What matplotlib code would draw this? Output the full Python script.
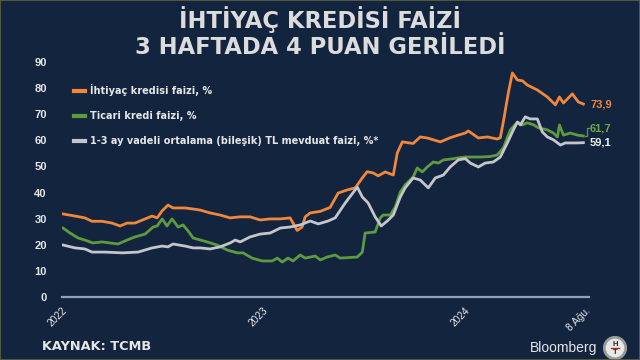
import matplotlib
matplotlib.use("Agg")
import matplotlib.pyplot as plt
from matplotlib.patches import Circle

# ---- data (time in years since 2022-01-01) ----
orange_t = [0.005,0.065,0.114,0.149,0.199,0.249,0.289,0.323,0.363,0.413,0.448,0.473,0.498,0.527,0.552,0.612,0.652,
            0.687,0.736,0.786,0.836,0.886,0.935,0.985,1.035,1.085,1.134,1.149,1.169,1.194,1.209,1.234,1.284,1.333,
            1.373,1.418,1.458,1.493,1.517,1.547,1.572,1.607,1.647,1.667,1.692,1.746,1.781,1.816,1.881,1.930,1.970,
            2.005,2.020,2.070,2.114,2.164,2.179,2.194,2.219,2.239,2.264,2.289,2.313,2.363,2.413,2.453,2.473,2.493,
            2.537,2.567,2.592]
orange_v = [31.8,31.0,30.3,29.0,29.0,28.3,27.2,28.3,28.3,29.9,31.0,30.3,33.0,35.2,34.1,34.1,33.7,
            33.3,32.2,31.4,30.3,30.7,30.7,29.5,29.9,29.9,30.3,28.3,25.5,26.8,30.7,32.2,32.8,34.3,
            39.8,41.0,41.8,45.6,48.0,47.5,46.4,47.9,46.7,55.2,59.4,58.8,61.3,60.9,59.4,61.0,62.0,
            62.8,63.6,60.9,61.3,60.5,61.0,67.0,78.2,85.8,83.1,82.8,81.2,79.3,76.6,73.6,76.6,74.3,
            77.8,74.7,73.9]

green_t = [0.005,0.040,0.080,0.114,0.154,0.199,0.239,0.279,0.323,0.363,0.413,0.453,0.473,0.498,0.522,0.547,0.577,
           0.602,0.627,0.652,0.721,0.771,0.821,0.871,0.900,0.945,0.995,1.045,1.070,1.095,1.124,1.149,1.184,1.209,
           1.259,1.284,1.318,1.358,1.383,1.468,1.493,1.507,1.557,1.582,1.597,1.632,1.657,1.682,1.706,1.746,1.766,
           1.791,1.816,1.846,1.871,1.896,1.940,1.970,2.005,2.080,2.129,2.164,2.194,2.229,2.264,2.289,2.313,2.343,
           2.368,2.413,2.443,2.463,2.473,2.493,2.527,2.562,2.592]
green_v = [26.4,24.5,22.6,21.8,20.7,21.1,20.7,20.3,21.8,23.0,24.1,26.8,27.2,29.9,27.2,29.9,26.8,
           27.6,25.3,22.6,21.1,19.9,18.0,16.9,16.9,14.9,13.8,13.8,14.9,13.4,14.9,13.8,16.1,14.9,
           15.7,14.2,15.3,16.1,14.9,15.3,17.2,24.5,24.9,30.3,31.4,31.4,34.5,40.2,42.9,46.0,49.4,
           47.9,49.8,51.7,51.3,52.5,52.9,53.3,53.6,53.6,53.8,54.4,57.1,64.0,67.0,65.9,66.7,66.0,
           64.8,64.0,62.8,61.3,65.9,62.0,62.8,62.0,61.7]

gray_t = [0.005,0.065,0.114,0.149,0.214,0.299,0.378,0.448,0.498,0.527,0.552,0.612,0.652,0.687,0.736,0.786,0.836,
          0.861,0.886,0.935,0.985,1.035,1.085,1.134,1.184,1.234,1.274,1.323,1.358,1.408,1.468,1.493,1.522,1.557,
          1.587,1.617,1.647,1.682,1.706,1.746,1.781,1.821,1.856,1.896,1.930,1.970,2.005,2.030,2.070,2.104,2.144,
          2.179,2.214,2.244,2.264,2.279,2.303,2.328,2.363,2.388,2.413,2.443,2.478,2.502,2.562,2.592]
gray_v = [19.9,18.8,18.4,17.2,17.2,16.9,17.2,18.8,19.5,19.2,20.3,19.5,18.8,18.8,18.4,19.2,20.7,
          21.8,21.1,23.0,24.1,24.5,26.4,26.8,27.6,29.1,28.0,29.1,30.3,36.0,42.1,38.3,36.0,30.7,
          27.2,29.1,31.4,38.3,41.8,45.6,44.8,41.8,45.6,46.7,49.8,52.5,53.0,51.3,49.8,51.3,51.7,
          53.6,59.0,64.0,67.0,65.9,69.0,68.2,68.2,63.2,61.3,60.2,58.2,59.0,59.0,59.1]

series_names = ["İhtiyaç kredisi faizi, %", "Ticari kredi faizi, %",
                "1-3 ay vadeli ortalama (bileşik) TL mevduat faizi, %*"]
end_labels = ["73,9", "61,7", "59,1"]
yticks = [0, 10, 20, 30, 40, 50, 60, 70, 80, 90]
xtick_pos = [2022.0, 2023.0, 2024.0, 2024.6]
xtick_lab = ["2022", "2023", "2024", "8 Ağu."]

BG = "#13243f"
C_OR = "#f0873a"
C_GR = "#5e9a3e"
C_GY = "#c4c6c9"
TXT = "#e6e6e6"

plt.rcParams['font.family'] = ['Liberation Sans', 'DejaVu Sans']

fig = plt.figure(figsize=(6.4, 3.6), dpi=100, facecolor=BG)
ax = fig.add_axes([62/640, 1-297/360, 527/640, 235/360])
ax.set_facecolor(BG)

ax.plot([2022 + t for t in orange_t], orange_v, color=C_OR, lw=2.0, label=series_names[0], solid_joinstyle='round')
ax.plot([2022 + t for t in green_t], green_v, color=C_GR, lw=2.0, label=series_names[1], solid_joinstyle='round')
ax.plot([2022 + t for t in gray_t], gray_v, color=C_GY, lw=2.0, label=series_names[2], solid_joinstyle='round')

ax.set_xlim(2022.0, 2024.62)
ax.set_ylim(0, 90)
ax.axhline(0, color="#8ea2bd", lw=1.6, clip_on=False)

for s in ax.spines.values():
    s.set_visible(False)
ax.set_yticks(yticks)
ax.set_yticklabels([str(v) for v in yticks], fontsize=8, fontweight='bold', color=TXT)
ax.tick_params(axis='y', length=0, pad=11)
ax.set_xticks(xtick_pos)
ax.set_xticklabels(xtick_lab, fontsize=7.3, color=TXT, rotation=45, ha='right', rotation_mode='anchor')
ax.tick_params(axis='x', length=0, pad=6)

leg = ax.legend(loc='upper left', bbox_to_anchor=(0.008, 0.94), frameon=False, handlelength=1.15,
                handletextpad=0.45, labelspacing=1.55, borderaxespad=0.4,
                prop={'family': 'DejaVu Sans', 'weight': 'bold', 'size': 7.0})
for txt in leg.get_texts():
    txt.set_color(TXT)
for h in leg.get_lines():
    h.set_linewidth(3)

# end labels
ax.text(2024.625, orange_v[-1], end_labels[0], color=C_OR, fontsize=8, fontweight='bold', va='center', clip_on=False)
ax.plot([2024.60, 2024.612, 2024.612, 2024.622], [green_v[-1], green_v[-1], 64.8, 64.8], color=C_GR, lw=0.9, clip_on=False)
ax.text(2024.625, 64.6, end_labels[1], color="#6aab4c", fontsize=8, fontweight='bold', va='center', clip_on=False)
ax.text(2024.625, gray_v[-1], end_labels[2], color="#eeeeee", fontsize=8, fontweight='bold', va='center', clip_on=False)

# titles
fig.text(0.5, 1-20/360, "İHTİYAÇ KREDİSİ FAİZİ", ha='center', va='center', fontsize=16.3,
         fontweight='bold', color="#dcdcdc", family='DejaVu Sans')
fig.text(0.5, 1-48/360, "3 HAFTADA 4 PUAN GERİLEDİ", ha='center', va='center', fontsize=16.3,
         fontweight='bold', color="#dcdcdc", family='DejaVu Sans')

# footer
fig.text(42/640, 1-346/360, "KAYNAK: TCMB", ha='left', va='center', fontsize=9.3,
         fontweight='bold', color="#e6e6e6", family='DejaVu Sans')
fig.text(597/640, 1-348/360, "Bloomberg", ha='right', va='center', fontsize=10, color="#e6e6e6")
logo_ax = fig.add_axes([603/640, 1-360/360, 24/640, 24/360])
logo_ax.set_xlim(-1, 1); logo_ax.set_ylim(-1, 1); logo_ax.set_aspect('equal'); logo_ax.axis('off')
logo_ax.add_patch(Circle((0, 0), 0.95, color="#9a9a9a"))
logo_ax.add_patch(Circle((0, 0), 0.72, color="#e8e8e8"))
logo_ax.text(0, 0.25, "H", ha='center', va='center', fontsize=5.5, fontweight='bold', color="#222222")
logo_ax.plot([-0.35, 0.35], [0, 0], color="#cc2222", lw=1)
logo_ax.text(0, -0.35, "T", ha='center', va='center', fontsize=5.5, fontweight='bold', color="#222222")

# thin border
fig.patches.append(plt.Rectangle((0, 0), 1, 1, transform=fig.transFigure, fill=False,
                                 edgecolor="#5f6240", lw=1.2))

fig.savefig("out.png", dpi=100, facecolor=BG)
